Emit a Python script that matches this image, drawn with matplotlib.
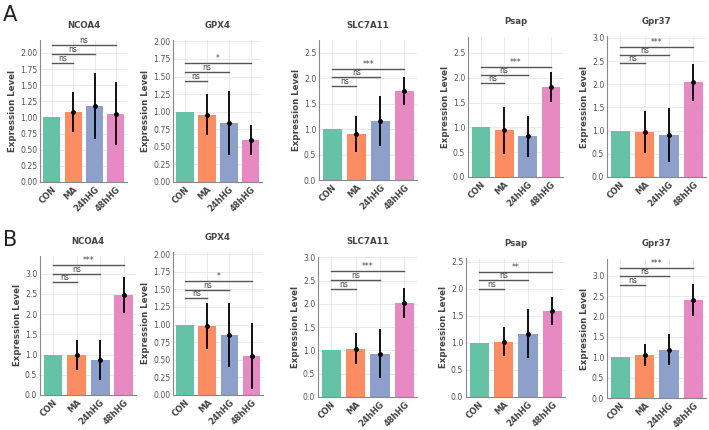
import numpy as np
import matplotlib.pyplot as plt
from matplotlib.ticker import MultipleLocator

# groups and genes
groups = ["CON", "MA", "24hHG", "48hHG"]
genes = ["NCOA4", "GPX4", "SLC7A11", "Psap", "Gpr37"]
colors = ["#66c2a5", "#fc8d62", "#8da0cb", "#e78ac3"]

# panel A
a_means = [[1.0, 1.09, 1.18, 1.06],
           [1.0, 0.96, 0.84, 0.60],
           [1.0, 0.90, 1.16, 1.75],
           [1.0, 0.94, 0.82, 1.82],
           [1.0, 0.97, 0.91, 2.04]]
a_sd = [[0, 0.31, 0.51, 0.49],
        [0, 0.29, 0.45, 0.21],
        [0, 0.35, 0.49, 0.28],
        [0, 0.48, 0.41, 0.30],
        [0, 0.46, 0.58, 0.40]]
a_sig_y = [[1.85, 1.99, 2.12],
           [1.44, 1.57, 1.69],
           [1.85, 2.03, 2.19],
           [1.89, 2.06, 2.22],
           [2.45, 2.64, 2.81]]
a_sig = [["ns", "ns", "ns"],
         ["ns", "ns", "*"],
         ["ns", "ns", "***"],
         ["ns", "ns", "***"],
         ["ns", "ns", "***"]]
a_ytop = [2.2, 2.02, 2.75, 2.82, 3.04]
a_step = [0.25, 0.25, 0.5, 0.5, 0.5]

# panel B
b_means = [[1.0, 1.00, 0.87, 2.47],
           [1.0, 0.98, 0.85, 0.55],
           [1.0, 1.04, 0.93, 2.02],
           [1.0, 1.02, 1.17, 1.59],
           [1.0, 1.06, 1.18, 2.40]]
b_sd = [[0, 0.37, 0.49, 0.45],
        [0, 0.33, 0.45, 0.47],
        [0, 0.33, 0.53, 0.32],
        [0, 0.27, 0.45, 0.26],
        [0, 0.27, 0.38, 0.40]]
b_sig_y = [[2.80, 3.00, 3.21],
           [1.37, 1.49, 1.62],
           [2.33, 2.52, 2.70],
           [1.99, 2.16, 2.31],
           [2.78, 3.00, 3.20]]
b_sig = [["ns", "ns", "***"],
         ["ns", "ns", "*"],
         ["ns", "ns", "***"],
         ["ns", "ns", "**"],
         ["ns", "ns", "***"]]
b_ytop = [3.44, 2.03, 3.01, 2.57, 3.41]
b_step = [0.5, 0.25, 0.5, 0.5, 0.5]

W, H = 709, 430
fig = plt.figure(figsize=(W / 100, H / 100), dpi=100)

# axes boxes in pixels: left, right, top, bottom
a_boxes = [(40, 127, 40, 182), (173, 262, 40, 182), (319, 417, 40, 180),
           (468, 563, 37, 177), (607, 706, 36, 177)]
b_boxes = [(40, 136, 256, 395), (173, 263, 252, 395), (318, 417, 257, 397),
           (466, 565, 258, 397), (607, 706, 259, 398)]

TXT = "#444444"


def draw_panel(box, gene, means, sd, sig_y, sig, ytop, step):
    l, r, t, b = box
    ax = fig.add_axes([l / W, 1 - b / H, (r - l) / W, (b - t) / H])
    x = np.arange(len(groups))
    ax.bar(x, means, width=0.8, color=colors, zorder=2)
    for xi, m, s in zip(x, means, sd):
        if s > 0:
            ax.errorbar(xi, m, yerr=s, fmt="o", color="black", ms=2.5,
                        elinewidth=1.3, capsize=0, zorder=3)
    for j, (yy, lab) in enumerate(zip(sig_y, sig)):
        ax.plot([0, j + 1], [yy, yy], color="#555555", lw=1.0, zorder=3)
        ax.text((j + 1) / 2, yy, lab, ha="center", va="bottom",
                fontsize=5.5, color=TXT)
    ax.set_xlim(-0.55, 3.52)
    ax.set_ylim(0, ytop)
    ax.yaxis.set_major_locator(MultipleLocator(step))
    ax.set_xticks(x)
    ax.set_xticklabels(groups, rotation=45, ha="right", rotation_mode="anchor",
                       fontsize=6, fontweight="bold", color=TXT)
    ax.tick_params(axis="y", labelsize=5.6, labelcolor="#555555", length=0, pad=2)
    ax.tick_params(axis="x", length=0, pad=2)
    ax.set_ylabel("Expression Level", fontsize=6.2, fontweight="bold", color=TXT, labelpad=2)
    ax.set_title(gene, fontsize=6.2, fontweight="bold", color=TXT, pad=9)
    ax.grid(color="#e6e6e6", lw=0.6, zorder=0)
    ax.set_axisbelow(True)
    for sp in ["top", "right"]:
        ax.spines[sp].set_visible(False)
    for sp in ["left", "bottom"]:
        ax.spines[sp].set_color("#888888")
        ax.spines[sp].set_linewidth(0.8)
    return ax


for i, g in enumerate(genes):
    draw_panel(a_boxes[i], g, a_means[i], a_sd[i], a_sig_y[i], a_sig[i], a_ytop[i], a_step[i])
    draw_panel(b_boxes[i], g, b_means[i], b_sd[i], b_sig_y[i], b_sig[i], b_ytop[i], b_step[i])

fig.text(3 / W, 1 - 15 / H, "A", fontsize=15, va="center", ha="left", color="#222222")
fig.text(3 / W, 1 - 240 / H, "B", fontsize=15, va="center", ha="left", color="#222222")

fig.savefig("out.png", dpi=100, facecolor="white")
